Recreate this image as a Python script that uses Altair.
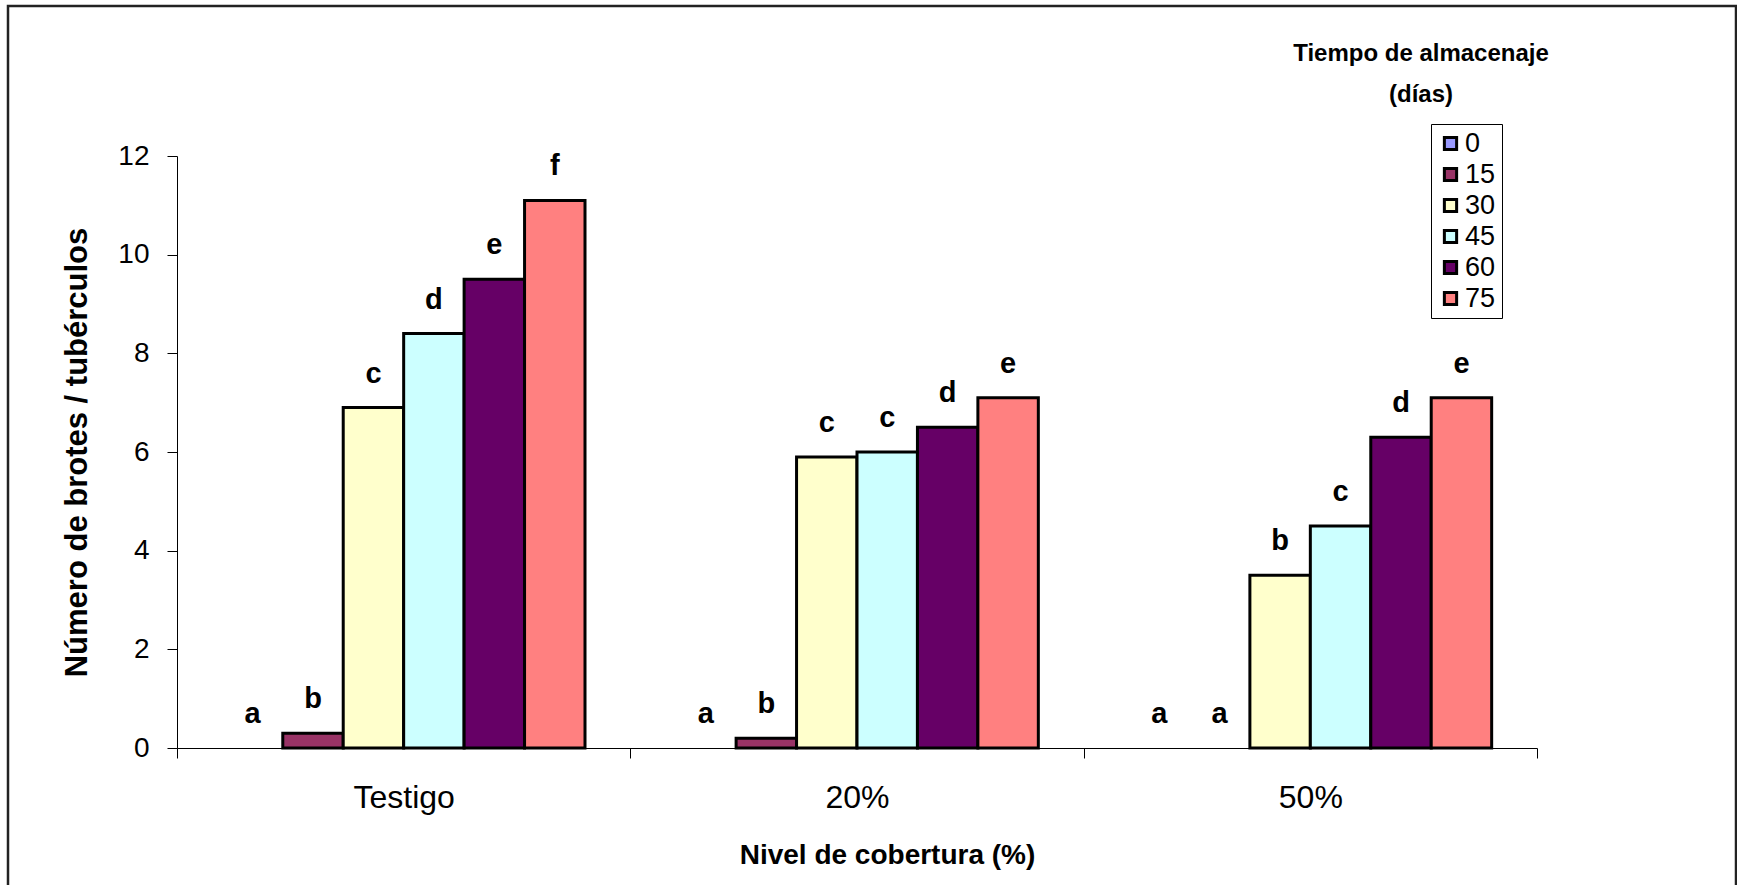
import altair as alt
import pandas as pd

# Nivel de cobertura (categorías del eje X)
coberturas = ["Testigo", "20%", "50%"]
# Tiempo de almacenaje en días (series)
tiempos = ["0", "15", "30", "45", "60", "75"]

# Número de brotes por tubérculo
valores_testigo = [0.0, 0.3, 6.9, 8.4, 9.5, 11.1]
valores_20 = [0.0, 0.2, 5.9, 6.0, 6.5, 7.1]
valores_50 = [0.0, 0.0, 3.5, 4.5, 6.3, 7.1]

# Letras de separación de medias
letras_testigo = ["a", "b", "c", "d", "e", "f"]
letras_20 = ["a", "b", "c", "c", "d", "e"]
letras_50 = ["a", "a", "b", "c", "d", "e"]

colores = ["#9999FF", "#993366", "#FFFFCC", "#CCFFFF", "#660066", "#FF8080"]

filas = []
for cob, vals, letras in zip(
    coberturas,
    [valores_testigo, valores_20, valores_50],
    [letras_testigo, letras_20, letras_50],
):
    for t, v, l in zip(tiempos, vals, letras):
        filas.append({"cobertura": cob, "tiempo": t, "valor": v, "letra": l})
df = pd.DataFrame(filas)

FONT = "Liberation Sans"
LEFT, TOP = 177, 156
W, H = 1360, 592

x_enc = alt.X(
    "cobertura:N",
    sort=coberturas,
    scale=alt.Scale(domain=coberturas, paddingInner=0, paddingOuter=0),
    axis=alt.Axis(
        title="Nivel de cobertura (%)",
        labelAngle=0,
        tickBand="extent",
        tickSize=10,
        labelBaseline="alphabetic",
        labelPadding=49,
        labelFontSize=32,
        titleFontSize=28,
        titleBaseline="alphabetic",
        titleX=710,
        titleY=115,
    ),
)
xoff_enc = alt.XOffset(
    "tiempo:N",
    sort=tiempos,
    scale=alt.Scale(domain=tiempos, paddingInner=0, paddingOuter=0.75),
)
y_enc = alt.Y(
    "valor:Q",
    scale=alt.Scale(domain=[0, 12], nice=False),
    axis=alt.Axis(
        title="Número de brotes / tubérculos",
        values=[0, 2, 4, 6, 8, 10, 12],
        grid=False,
        tickSize=10,
        labelPadding=18,
        labelFontSize=28,
        titleFontSize=31,
        titleBaseline="alphabetic",
        titleX=-91,
        titleY=H / 2,
    ),
)

base = alt.Chart(df)

barras = (
    base.transform_filter("datum.valor > 0")
    .mark_bar(stroke="black", strokeWidth=3)
    .encode(
        x=x_enc,
        xOffset=xoff_enc,
        y=y_enc,
        color=alt.Color(
            "tiempo:N",
            sort=tiempos,
            scale=alt.Scale(domain=tiempos, range=colores),
            legend=alt.Legend(
                title=None,
                orient="none",
                legendX=1254,
                legendY=-32,
                strokeColor="black",
                padding=6,
                symbolType="square",
                symbolSize=150,
                symbolStrokeColor="black",
                symbolStrokeWidth=3,
                symbolOpacity=1,
                labelFontSize=27,
                labelFont=FONT,
                labelColor="black",
                labelOffset=1,
                rowPadding=3,
            ),
        ),
    )
)

letras = base.mark_text(
    dy=-34, fontSize=29, fontWeight="bold", font=FONT, color="black"
).encode(x=x_enc, xOffset=xoff_enc, y=y_enc, text="letra:N")

titulo_leyenda = (
    alt.Chart(pd.DataFrame({"t": ["Tiempo de almacenaje\n(días)"]}))
    .mark_text(
        fontSize=24,
        fontWeight="bold",
        font=FONT,
        color="black",
        align="center",
        baseline="alphabetic",
        lineBreak="\n",
        lineHeight=41,
    )
    .encode(x=alt.value(1244), y=alt.value(-95), text="t:N")
)

marco = (
    alt.Chart(pd.DataFrame({"m": [0]}))
    .mark_rect(fill=None, stroke="#222222", strokeWidth=2.5)
    .encode(
        x=alt.value(-169),
        x2=alt.value(1559),
        y=alt.value(-150),
        y2=alt.value(760),
    )
)

chart = (
    alt.layer(marco, barras, letras, titulo_leyenda)
    .properties(
        width=W,
        height=H,
        padding={"left": LEFT, "top": TOP, "right": 1737 - LEFT - W, "bottom": 885 - TOP - H},
        autosize=alt.AutoSizeParams(type="none"),
        background="white",
    )
    .configure_view(stroke=None)
    .configure_axis(
        domainColor="black",
        tickColor="black",
        domainWidth=1,
        tickWidth=1,
        labelColor="black",
        titleColor="black",
        labelFont=FONT,
        titleFont=FONT,
        titleFontWeight="bold",
    )
)

chart.save("out.html", embed_options={"renderer": "svg", "actions": False})
